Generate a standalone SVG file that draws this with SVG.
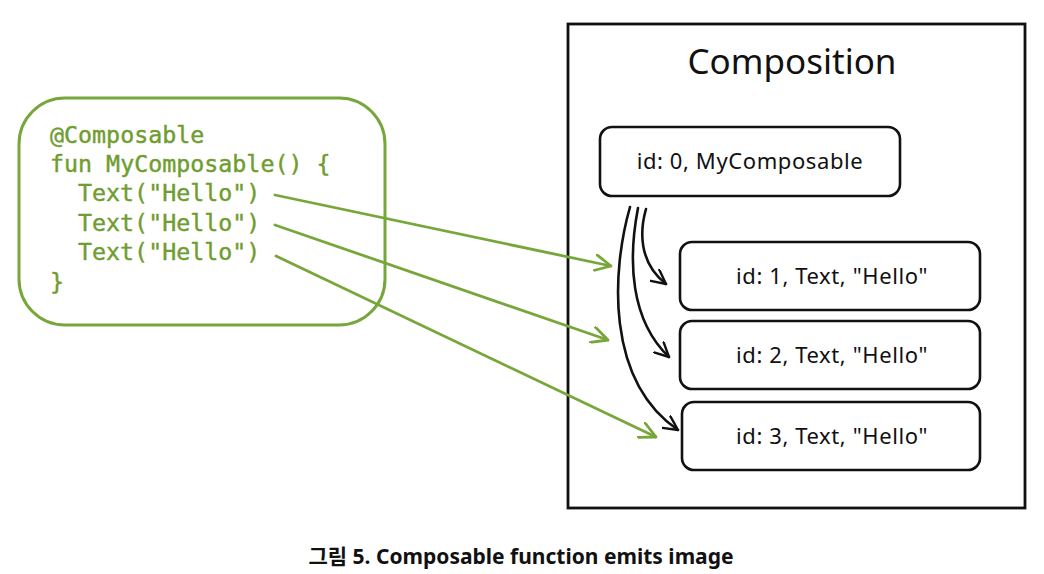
<svg xmlns="http://www.w3.org/2000/svg" width="1044" height="574" viewBox="0 0 1044 574">
<style>
.code{font-family:"DejaVu Sans Mono","Liberation Mono",monospace;font-size:23.3px;fill:#6f9d2f;stroke:#6f9d2f;stroke-width:0.4}
.hand{font-family:"Noto Sans","Liberation Sans",sans-serif;fill:#111}
.nt{font-size:22px;letter-spacing:0.6px}
.node{fill:#fff;stroke:#111;stroke-width:2.6}
.blk{fill:none;stroke:#111;stroke-width:2.6;stroke-linecap:round}
.grn{fill:none;stroke:#77a63a;stroke-width:2.8;stroke-linecap:round}
</style>
<defs>
<marker id="ab" viewBox="0 0 16 16" refX="15" refY="8" markerWidth="16" markerHeight="16" markerUnits="userSpaceOnUse" orient="auto">
<path d="M1,1 L15,8 L1,15" fill="none" stroke="#111" stroke-width="2.4" stroke-linecap="round" stroke-linejoin="round"/>
</marker>
<marker id="ag" viewBox="0 0 18 18" refX="17" refY="9" markerWidth="18" markerHeight="18" markerUnits="userSpaceOnUse" orient="auto">
<path d="M1,1 L17,9 L1,17" fill="none" stroke="#77a63a" stroke-width="2.8" stroke-linecap="round" stroke-linejoin="round"/>
</marker>
</defs>
<rect width="1044" height="574" fill="#fff"/>
<g id="code">
<rect x="19" y="98" width="366" height="227" rx="46" fill="none" stroke="#77a63a" stroke-width="3"/>
<text class="code" x="50" y="143">@Composable</text>
<text class="code" x="50" y="172">fun MyComposable() {</text>
<text class="code" x="78" y="201">Text("Hello")</text>
<text class="code" x="78" y="231">Text("Hello")</text>
<text class="code" x="78" y="260">Text("Hello")</text>
<text class="code" x="50" y="290">}</text>
</g>
<g id="composition">
<rect x="568" y="24" width="457" height="484" fill="none" stroke="#111" stroke-width="2.8"/>
<text class="hand" x="792" y="74" font-size="35" text-anchor="middle">Composition</text>
</g>
<g id="node0">
<rect class="node" x="600" y="127" width="300" height="69" rx="12"/>
<text class="hand nt" x="750" y="169" text-anchor="middle">id: 0, MyComposable</text>
</g>
<g id="node1">
<rect class="node" x="680" y="242" width="300" height="68" rx="12"/>
<text class="hand nt" x="832" y="284" text-anchor="middle">id: 1, Text, "Hello"</text>
</g>
<g id="node2">
<rect class="node" x="680" y="321" width="300" height="68" rx="12"/>
<text class="hand nt" x="832" y="363" text-anchor="middle">id: 2, Text, "Hello"</text>
</g>
<g id="node3">
<rect class="node" x="682" y="402" width="298" height="68" rx="12"/>
<text class="hand nt" x="832" y="444" text-anchor="middle">id: 3, Text, "Hello"</text>
</g>
<g id="connectors">
<path class="blk" d="M646,209 C640,230 638,262 666,284" marker-end="url(#ab)"/>
<path class="blk" d="M638,208 C628,260 630,320 669,357" marker-end="url(#ab)"/>
<path class="blk" d="M630,207 C612,270 605,380 678,430" marker-end="url(#ab)"/>
<path class="grn" d="M275,195 L611,266" marker-end="url(#ag)"/>
<path class="grn" d="M275,225 L608,340" marker-end="url(#ag)"/>
<path class="grn" d="M276,256 L656,437" marker-end="url(#ag)"/>
</g>
<text x="521" y="564" font-family="'Noto Sans','Noto Sans CJK KR',sans-serif" font-weight="bold" font-size="21" text-anchor="middle" fill="#111">그림 5. Composable function emits image</text>
</svg>
